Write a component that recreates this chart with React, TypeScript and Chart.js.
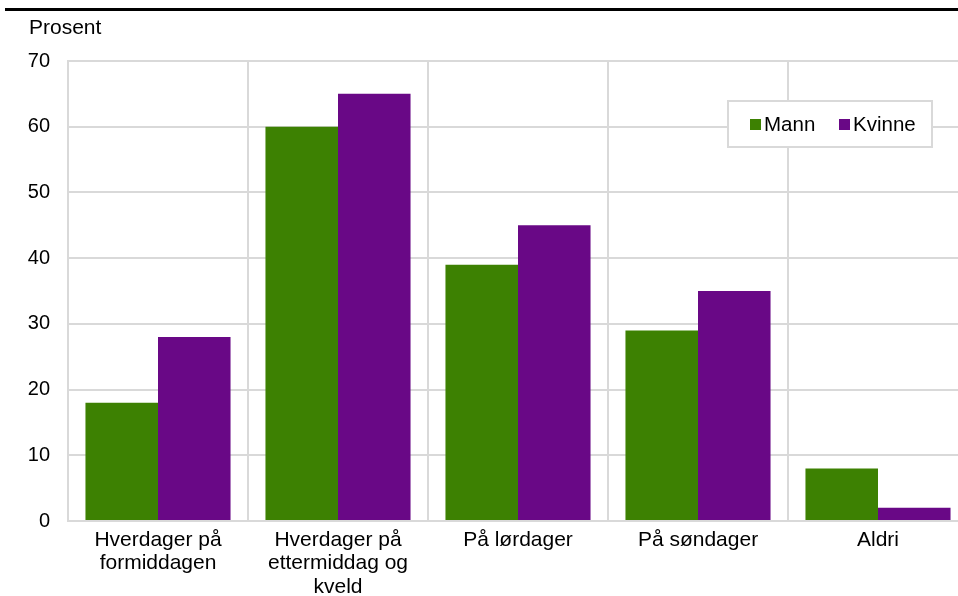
import React, { useEffect, useRef } from "react";
import { Chart, registerables } from "chart.js";

Chart.register(...registerables);

const categories: (string | string[])[] = [
  ["Hverdager på", "formiddagen"],
  ["Hverdager på", "ettermiddag og", "kveld"],
  "På lørdager",
  "På søndager",
  "Aldri",
];
const mann = [18, 60, 39, 29, 8];
const kvinne = [28, 65, 45, 35, 2];
const seriesNames = ["Mann", "Kvinne"];
const colors = ["#3d8102", "#690886"];
const yTitle = "Prosent";

const FONT = "'Liberation Sans', Arial, sans-serif";
const FS = 20;
const FSX = 21;

export default function App() {
  const ref = useRef<HTMLCanvasElement | null>(null);

  useEffect(() => {
    if (!ref.current) return;
    document.body.style.margin = "0";
    document.body.style.overflow = "hidden";

    const decor = {
      id: "decor",
      afterDraw(chart: any) {
        const ctx = chart.ctx;
        ctx.save();
        // top rule
        ctx.fillStyle = "#000";
        ctx.fillRect(5, 8, 1000, 3);
        // axis title
        ctx.font = `${FSX}px ${FONT}`;
        ctx.fillStyle = "#000";
        ctx.textBaseline = "middle";
        ctx.textAlign = "left";
        ctx.fillText(yTitle, 29, 28);
        // legend
        const lx = 728, ly = 101, lw = 204, lh = 46;
        ctx.fillStyle = "#fff";
        ctx.fillRect(lx, ly, lw, lh);
        ctx.strokeStyle = "#d9d9d9";
        ctx.lineWidth = 2;
        ctx.strokeRect(lx, ly, lw, lh);
        const items = chart.data.datasets;
        const xs = [750, 839];
        ctx.font = `20.5px ${FONT}`;
        items.forEach((ds: any, i: number) => {
          ctx.fillStyle = ds.backgroundColor;
          ctx.fillRect(xs[i], 119, 11, 11);
          ctx.fillStyle = "#000";
          ctx.fillText(ds.label, xs[i] + 14, 125);
        });
        ctx.restore();
      },
    };

    const chart = new Chart(ref.current, {
      type: "bar",
      data: {
        labels: categories as any,
        datasets: [
          { label: seriesNames[0], data: mann, backgroundColor: colors[0] },
          { label: seriesNames[1], data: kvinne, backgroundColor: colors[1] },
        ],
      },
      options: {
        responsive: false,
        animation: false,
        devicePixelRatio: 1,
        layout: { padding: { top: 61, left: 0, right: 12, bottom: 0 } },
        datasets: {
          bar: { categoryPercentage: 0.806, barPercentage: 1 },
        },
        plugins: {
          legend: { display: false },
          tooltip: { enabled: false },
        },
        scales: {
          x: {
            grid: { color: "#d9d9d9", lineWidth: 2, drawTicks: false, offset: true },
            border: { color: "#d9d9d9", width: 2 },
            ticks: {
              color: "#000",
              font: { family: FONT, size: FSX, lineHeight: 1.12 },
              padding: 7,
              maxRotation: 0,
              autoSkip: false,
            },
            afterFit(scale: any) {
              scale.height = 75;
            },
          },
          y: {
            min: 0,
            max: 70,
            grid: { color: "#d9d9d9", lineWidth: 2, drawTicks: false },
            border: { color: "#d9d9d9", width: 2 },
            ticks: {
              stepSize: 10,
              color: "#000",
              font: { family: FONT, size: FS },
              padding: 18,
            },
            afterFit(scale: any) {
              scale.width = 68;
            },
          },
        },
      },
      plugins: [decor],
    });
    return () => chart.destroy();
  }, []);

  return (
    <div
      style={{
        position: "fixed",
        left: 0,
        top: 0,
        width: 958,
        height: 596,
        overflow: "hidden",
        background: "#fff",
      }}
    >
      <canvas ref={ref} width={980} height={596} style={{ display: "block" }} />
    </div>
  );
}
